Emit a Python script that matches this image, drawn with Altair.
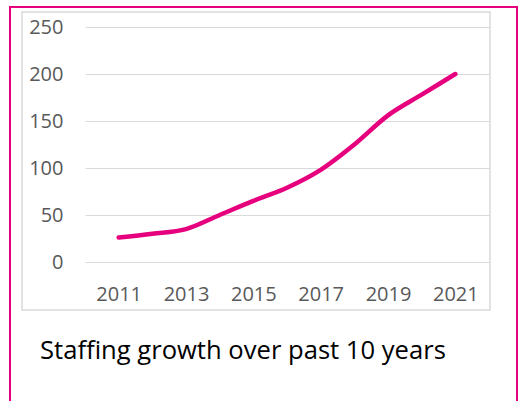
import altair as alt
import pandas as pd

years = [2011, 2012, 2013, 2014, 2015, 2016, 2017, 2018, 2019, 2020, 2021]
staff = [26, 30, 35, 50, 65, 79, 98, 125, 156, 178, 200]
x_ticks = [2011, 2013, 2015, 2017, 2019, 2021]
y_ticks = [0, 50, 100, 150, 200, 250]
title_text = "Staffing growth over past 10 years"

PINK = "#E6007E"
GREY = "#D9D9D9"
LABEL = "#595959"
FONT = "Open Sans"

df = pd.DataFrame({"year": years, "staff": staff})
dummy = pd.DataFrame({"k": [0]})

outer = alt.Chart(dummy).mark_rect(fillOpacity=0, stroke=PINK, strokeWidth=2).encode(
    x=alt.value(-75), x2=alt.value(432), y=alt.value(-20), y2=alt.value(430)
)
inner = alt.Chart(dummy).mark_rect(fillOpacity=0, stroke=GREY, strokeWidth=1.5).encode(
    x=alt.value(-63), x2=alt.value(405), y=alt.value(-15), y2=alt.value(283)
)

line = alt.Chart(df).mark_line(
    interpolate="cardinal", strokeWidth=4.5, strokeCap="round", color=PINK
).encode(
    x=alt.X(
        "year:Q",
        scale=alt.Scale(domain=[2010, 2022], nice=False, zero=False),
        axis=alt.Axis(
            values=x_ticks, format="d", grid=False, domain=False, ticks=False,
            labelPadding=22, labelFontSize=20, labelColor=LABEL, labelFont=FONT,
            title=None,
        ),
    ),
    y=alt.Y(
        "staff:Q",
        scale=alt.Scale(domain=[0, 250], nice=False),
        axis=alt.Axis(
            values=y_ticks, grid=True, gridColor=GREY, gridWidth=1.2, domain=False,
            ticks=False, labelPadding=22, labelFontSize=20, labelColor=LABEL,
            labelFont=FONT, title=None,
        ),
    ),
)

title = alt.Chart(dummy).mark_text(
    align="left", baseline="alphabetic", fontSize=25.6, font=FONT, color="black"
).encode(x=alt.value(-45), y=alt.value(332), text=alt.value(title_text))

chart = alt.layer(outer, inner, line, title).properties(
    width=404,
    height=235,
    autosize=alt.AutoSizeParams(type="none"),
    padding={"left": 85, "top": 27, "right": 29, "bottom": 139},
    background="white",
).configure_view(strokeWidth=0)

chart.save("out.html", embed_options={"renderer": "svg", "actions": False})
